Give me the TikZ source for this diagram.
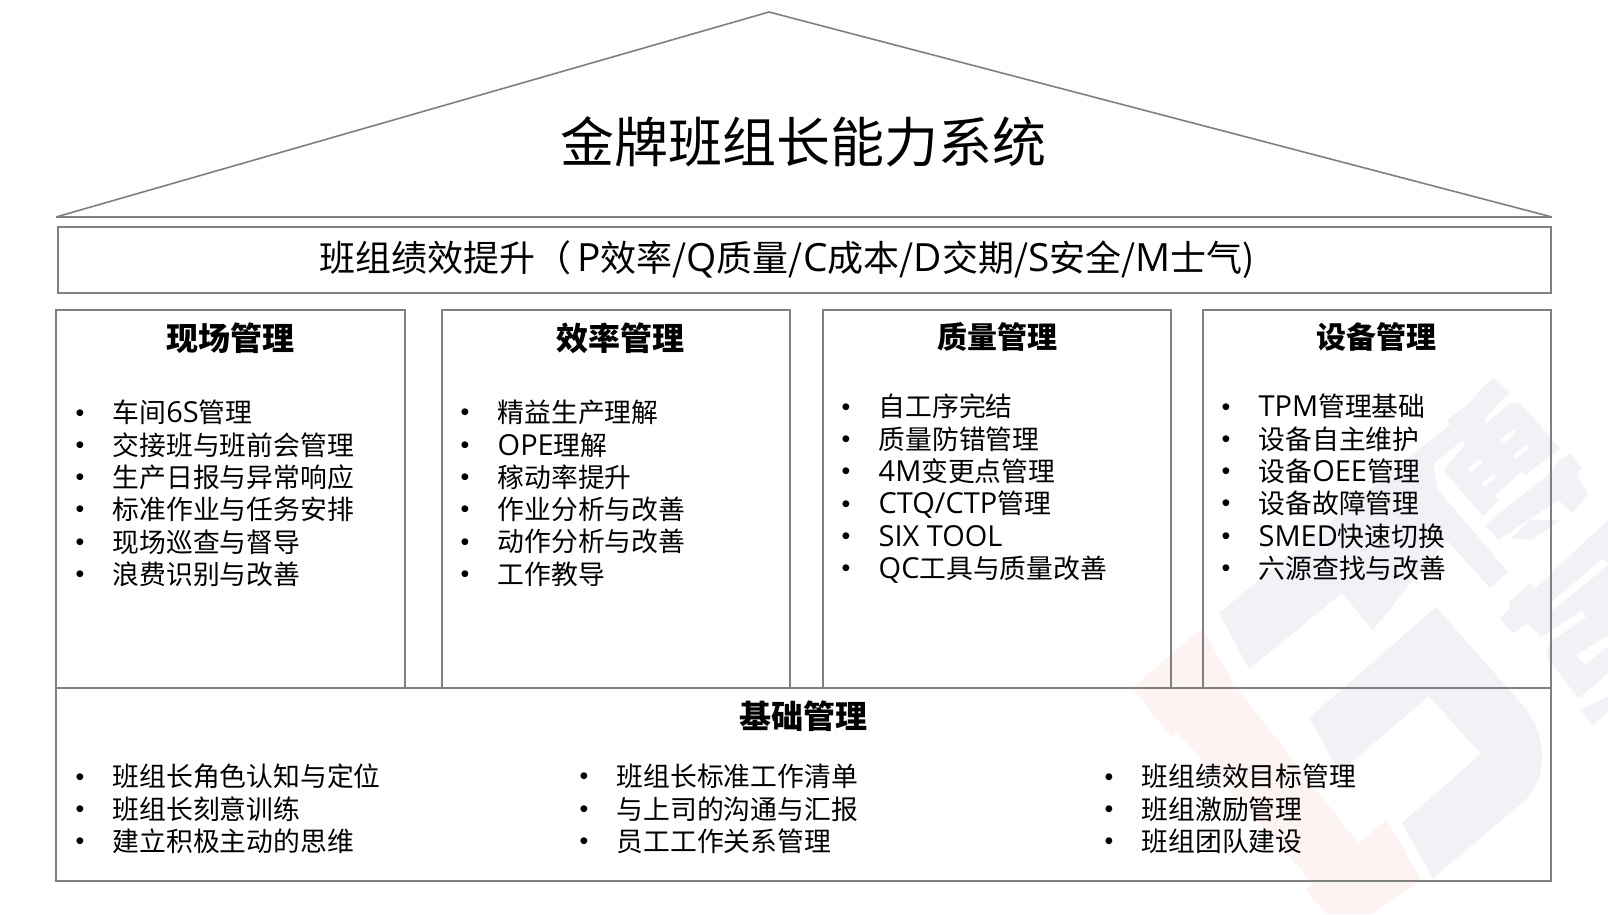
\documentclass[tikz,border=0pt]{standalone}
\usepackage{fontspec}
\setmainfont{Noto Sans CJK SC}
\newfontfamily\latfont[Scale=1.08]{Open Sans}
\newfontfamily\dotfont{Liberation Sans}
\newcommand{\la}[1]{{\latfont #1}}
\newcommand{\bl}[1]{\makebox[37pt][l]{\raisebox{1.8pt}{\dotfont\fontsize{25}{25}\selectfont •}}#1\\}
\definecolor{linegray}{HTML}{808080}
\definecolor{wmblue}{HTML}{F1F1F6}
\definecolor{wmpink}{HTML}{FDF3F3}
\tikzset{
  x=1pt,y=-1pt,
  frame/.style={draw=linegray,line width=2pt,fill=none,inner sep=0pt,outer sep=0pt,anchor=north west},
  head/.style={font=\fontsize{32}{36}\selectfont\bfseries,inner sep=0pt,anchor=center},
  headsmall/.style={font=\fontsize{30}{36}\selectfont\bfseries,inner sep=0pt,anchor=center},
  itemlist/.style={font=\fontsize{26.8}{32.3}\selectfont,inner sep=0pt,anchor=north west,align=left},
  roof/.style={draw=linegray,line width=1.6pt,line join=bevel},
  slit/.style={draw=white,line width=4.5pt,line cap=round},
}
\begin{document}
\begin{tikzpicture}
\useasboundingbox (0,0) rectangle (1608,914);
\fill[white] (0,0) rectangle (1608,914);
% watermark
\fill[wmpink] (1202,628)--(1233,683)--(1358,843)--(1387,820)--(1421,880)--(1372,914)--(1327,914)--(1305,890)--(1313,883)--(1178,733)--(1172,737)--(1132,688)--cycle;
\fill[wmblue] (1309,718)--(1436,607)--(1520,702) .. controls (1548,732) and (1552,782) .. (1517,807)--(1433,878)--(1402,823)--(1481,754)--(1429,696)--(1340,772)--cycle;
\fill[wmblue] (1219,613)--(1420,448)--(1433,463)--(1438,490)--(1508,572)--(1490,588)--(1447,540)--(1413,580)--(1373,630)--(1342,593)--(1249,669)--cycle;
\begin{scope}[shift={(1350,360)},x=0.3333pt,y=-0.3333pt]
\fill[wmblue] (430,55)--(478,95)--(405,175)--(410,190)--(480,130)--(510,130)--(630,265)--(525,345)--(515,335)--(435,405)--(445,420)--(400,470)--(280,330)--(345,255)--(340,240)--(250,310)--(210,265)--(300,195)--(290,180)--(360,130)--(385,95)--cycle;
\fill[wmblue] (630,300)--(660,280)--(695,325)--(680,345)--(715,400)--(668,460)--(625,420)--(445,540)--(405,495)--(600,340)--cycle;
\fill[wmblue] (485,535)--(540,480)--(630,480)--(545,540)--cycle;
\draw[slit] (457,243)--(490,217);
\draw[slit] (497,288)--(530,262);
\draw[slit] (362,328)--(390,305);
\draw[slit] (402,373)--(430,350);
\end{scope}
\begin{scope}[shift={(1350,540)},x=0.3333pt,y=-0.3333pt]
\fill[wmblue] (450,235)--(480,205)--(478,185)--(540,130)--(555,145)--(774,-60)--(774,400)--(685,475)--(590,350) .. controls (590,330) and (595,312) .. (610,300)--(710,230)--(695,212)--(575,290)--(530,250)--(490,280)--cycle;
\fill[white] (600,190)--(760,55)--(774,75)--(610,210)--cycle;
\fill[white] (680,345)--(705,375)--(774,318)--(774,285)--cycle;
\fill[wmblue] (690,510)--(730,555)--(774,515)--(774,470)--cycle;
\end{scope}
% roof
\coordinate (apex) at (769,12);
\coordinate (eaveL) at (56,217);
\coordinate (eaveR) at (1552,217);
\draw[roof] (eaveL)--(apex)--(eaveR)--cycle;
\node[font=\fontsize{54}{60}\selectfont,inner sep=0pt] (title) at (803,142) {金牌班组长能力系统};
% band
\node[frame,minimum width=1493pt,minimum height=66pt] (band) at (58,227) {};
\node[font=\fontsize{36}{40}\selectfont,inner sep=0pt] (bandtext) at (787,260) {班组绩效提升（\hspace{6pt}\la{P}效率/\la{Q}质量/\la{C}成本/\la{D}交期/\la{S}安全/\la{M}士气)};
% columns
\node[frame,minimum width=349pt,minimum height=378pt] (c1) at (56,310) {};
\node[frame,minimum width=348pt,minimum height=378pt] (c2) at (442,310) {};
\node[frame,minimum width=348pt,minimum height=378pt] (c3) at (823,310) {};
\node[frame,minimum width=348pt,minimum height=378pt] (c4) at (1203,310) {};
\node[frame,minimum width=1495pt,minimum height=193pt] (base) at (56,688) {};
% headers
\node[head] (h1) at (230,338) {现场管理};
\node[head] (h2) at (620,338) {效率管理};
\node[headsmall] (h3) at (997,337) {质量管理};
\node[headsmall] (h4) at (1376,337) {设备管理};
\node[head] (h5) at (803,716) {基础管理};
% lists
\node[itemlist] (l1) at (75.5,400) {\bl{车间\la{6S}管理}\bl{交接班与班前会管理}\bl{生产日报与异常响应}\bl{标准作业与任务安排}\bl{现场巡查与督导}\bl{浪费识别与改善}};
\node[itemlist] (l2) at (460.5,400) {\bl{精益生产理解}\bl{\la{OPE}理解}\bl{稼动率提升}\bl{作业分析与改善}\bl{动作分析与改善}\bl{工作教导}};
\node[itemlist] (l3) at (841.5,394) {\bl{自工序完结}\bl{质量防错管理}\bl{\la{4M}变更点管理}\bl{\la{CTQ/CTP}管理}\bl{\la{SIX TOOL}}\bl{\la{QC}工具与质量改善}};
\node[itemlist] (l4) at (1221.5,394) {\bl{\la{TPM}管理基础}\bl{设备自主维护}\bl{设备\la{OEE}管理}\bl{设备故障管理}\bl{\la{SMED}快速切换}\bl{六源查找与改善}};
\node[itemlist] (l5) at (75.5,764) {\bl{班组长角色认知与定位}\bl{班组长刻意训练}\bl{建立积极主动的思维}};
\node[itemlist] (l6) at (579.5,764) {\bl{班组长标准工作清单}\bl{与上司的沟通与汇报}\bl{员工工作关系管理}};
\node[itemlist] (l7) at (1104.5,764) {\bl{班组绩效目标管理}\bl{班组激励管理}\bl{班组团队建设}};
\end{tikzpicture}
\end{document}
